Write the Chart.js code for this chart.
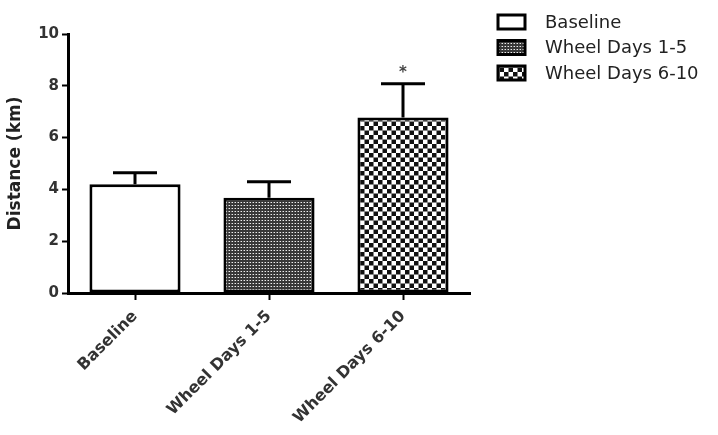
<!DOCTYPE html>
<html>
<head>
<meta charset="utf-8">
<script src="https://cdn.jsdelivr.net/npm/chart.js@4"></script>
<style>
  html, body { margin: 0; padding: 0; background: #fff; }
  #wrap { width: 718px; height: 435px; }
</style>
</head>
<body>
<div id="wrap"><canvas id="chart" width="718" height="435"></canvas></div>
<script>
// данные графика
const categories = ["Baseline", "Wheel Days 1-5", "Wheel Days 6-10"];
const means = [4.2, 3.68, 6.78];
const errors = [0.44, 0.62, 1.3];
const marks = ["", "", "*"];
const yTicks = [0, 2, 4, 6, 8, 10];

const FONT = "'DejaVu Sans', sans-serif";

// узоры для заливки столбцов
function dotPattern() {
    const c = document.createElement("canvas");
    c.width = 3; c.height = 3;
    const g = c.getContext("2d");
    g.fillStyle = "#383838";
    g.fillRect(0, 0, 3, 3);
    g.fillStyle = "#eeeeee";
    g.fillRect(1, 1, 1, 1);
    g.fillStyle = "#8a8a8a";
    g.fillRect(0, 1, 1, 1);
    return g.createPattern(c, "repeat");
}

function checkerPattern() {
    const c = document.createElement("canvas");
    c.width = 9; c.height = 9;
    const g = c.getContext("2d");
    g.fillStyle = "#fff";
    g.fillRect(0, 0, 9, 9);
    g.fillStyle = "#111";
    g.fillRect(0, 0, 4, 4);
    g.fillRect(5, 5, 4, 4);
    g.fillStyle = "#888";
    g.fillRect(4, 0, 1, 9);
    g.fillRect(0, 4, 9, 1);
    return g.createPattern(c, "repeat");
}

const fills = ["#ffffff", dotPattern(), checkerPattern()];

// планки погрешностей и звёздочки
const errorBars = {
    id: "errorBars",
    afterDatasetsDraw(chart) {
        const ctx = chart.ctx;
        const y = chart.scales.y;
        ctx.save();
        ctx.strokeStyle = "#000";
        ctx.lineWidth = 3;
        chart.data.datasets.forEach((ds, di) => {
            const meta = chart.getDatasetMeta(di);
            meta.data.forEach((bar, i) => {
                if (ds.data[i] == null) return;
                const top = y.getPixelForValue(means[i]);
                const hi = y.getPixelForValue(means[i] + errors[i]);
                const cx = bar.x;
                const half = 22;
                ctx.beginPath();
                ctx.moveTo(cx, top);
                ctx.lineTo(cx, hi);
                ctx.moveTo(cx - half, hi);
                ctx.lineTo(cx + half, hi);
                ctx.stroke();
                if (marks[i]) {
                    ctx.fillStyle = "#444";
                    ctx.font = "bold 15px " + FONT;
                    ctx.textAlign = "center";
                    ctx.textBaseline = "bottom";
                    ctx.fillText(marks[i], cx, hi - 3);
                }
            });
        });
        ctx.restore();
    }
};

// легенда справа от графика
const sideLegend = {
    id: "sideLegend",
    afterDraw(chart) {
        const ctx = chart.ctx;
        const area = chart.chartArea;
        const x0 = area.right + 28;
        const y0 = area.top - 12;
        ctx.save();
        ctx.font = "18px " + FONT;
        ctx.textBaseline = "middle";
        ctx.textAlign = "left";
        categories.forEach((name, k) => {
            const yc = y0 + k * 25.5;
            ctx.fillStyle = fills[k];
            ctx.fillRect(x0, yc - 7, 27, 14);
            ctx.strokeStyle = "#000";
            ctx.lineWidth = 3;
            ctx.strokeRect(x0, yc - 7, 27, 14);
            ctx.fillStyle = "#222";
            ctx.fillText(name, x0 + 47, yc + 1);
        });
        ctx.restore();
    }
};

const datasets = categories.map((name, k) => ({
    label: name,
    data: categories.map((_, i) => (i === k ? means[i] : null)),
    backgroundColor: fills[k],
    borderColor: "#000",
    borderWidth: 3,
    borderSkipped: false,
    barPercentage: 0.68,
    categoryPercentage: 1,
    skipNull: true
}));

new Chart(document.getElementById("chart"), {
    type: "bar",
    data: { labels: categories, datasets: datasets },
    options: {
        responsive: false,
        animation: false,
        layout: { padding: { top: 34, left: 0, right: 248, bottom: 0 } },
        plugins: {
            tooltip: { enabled: false },
            legend: { display: false }
        },
        scales: {
            x: {
                afterFit: (axis) => { axis.height = 142; },
                grid: {
                    offset: false,
                    drawOnChartArea: false,
                    drawTicks: true,
                    tickLength: 7,
                    tickWidth: 2,
                    tickColor: "#000"
                },
                border: { color: "#000", width: 3 },
                ticks: {
                    color: "#333",
                    font: { family: FONT, size: 16, weight: "bold" },
                    maxRotation: 45,
                    minRotation: 45,
                    padding: 7
                }
            },
            y: {
                min: 0,
                max: 10,
                afterFit: (axis) => { axis.width = 68; },
                afterBuildTicks: (axis) => { axis.ticks = yTicks.map(v => ({ value: v })); },
                grid: {
                    drawOnChartArea: false,
                    tickLength: 6,
                    tickWidth: 2,
                    tickColor: "#000"
                },
                border: { color: "#000", width: 3 },
                ticks: {
                    color: "#333",
                    font: { family: FONT, size: 15, weight: "bold" },
                    padding: 3
                },
                title: {
                    display: true,
                    text: "Distance (km)",
                    color: "#222",
                    font: { family: FONT, size: 17, weight: "bold" },
                    padding: { top: 5, bottom: 4 }
                }
            }
        }
    },
    plugins: [errorBars, sideLegend]
});
</script>
</body>
</html>
